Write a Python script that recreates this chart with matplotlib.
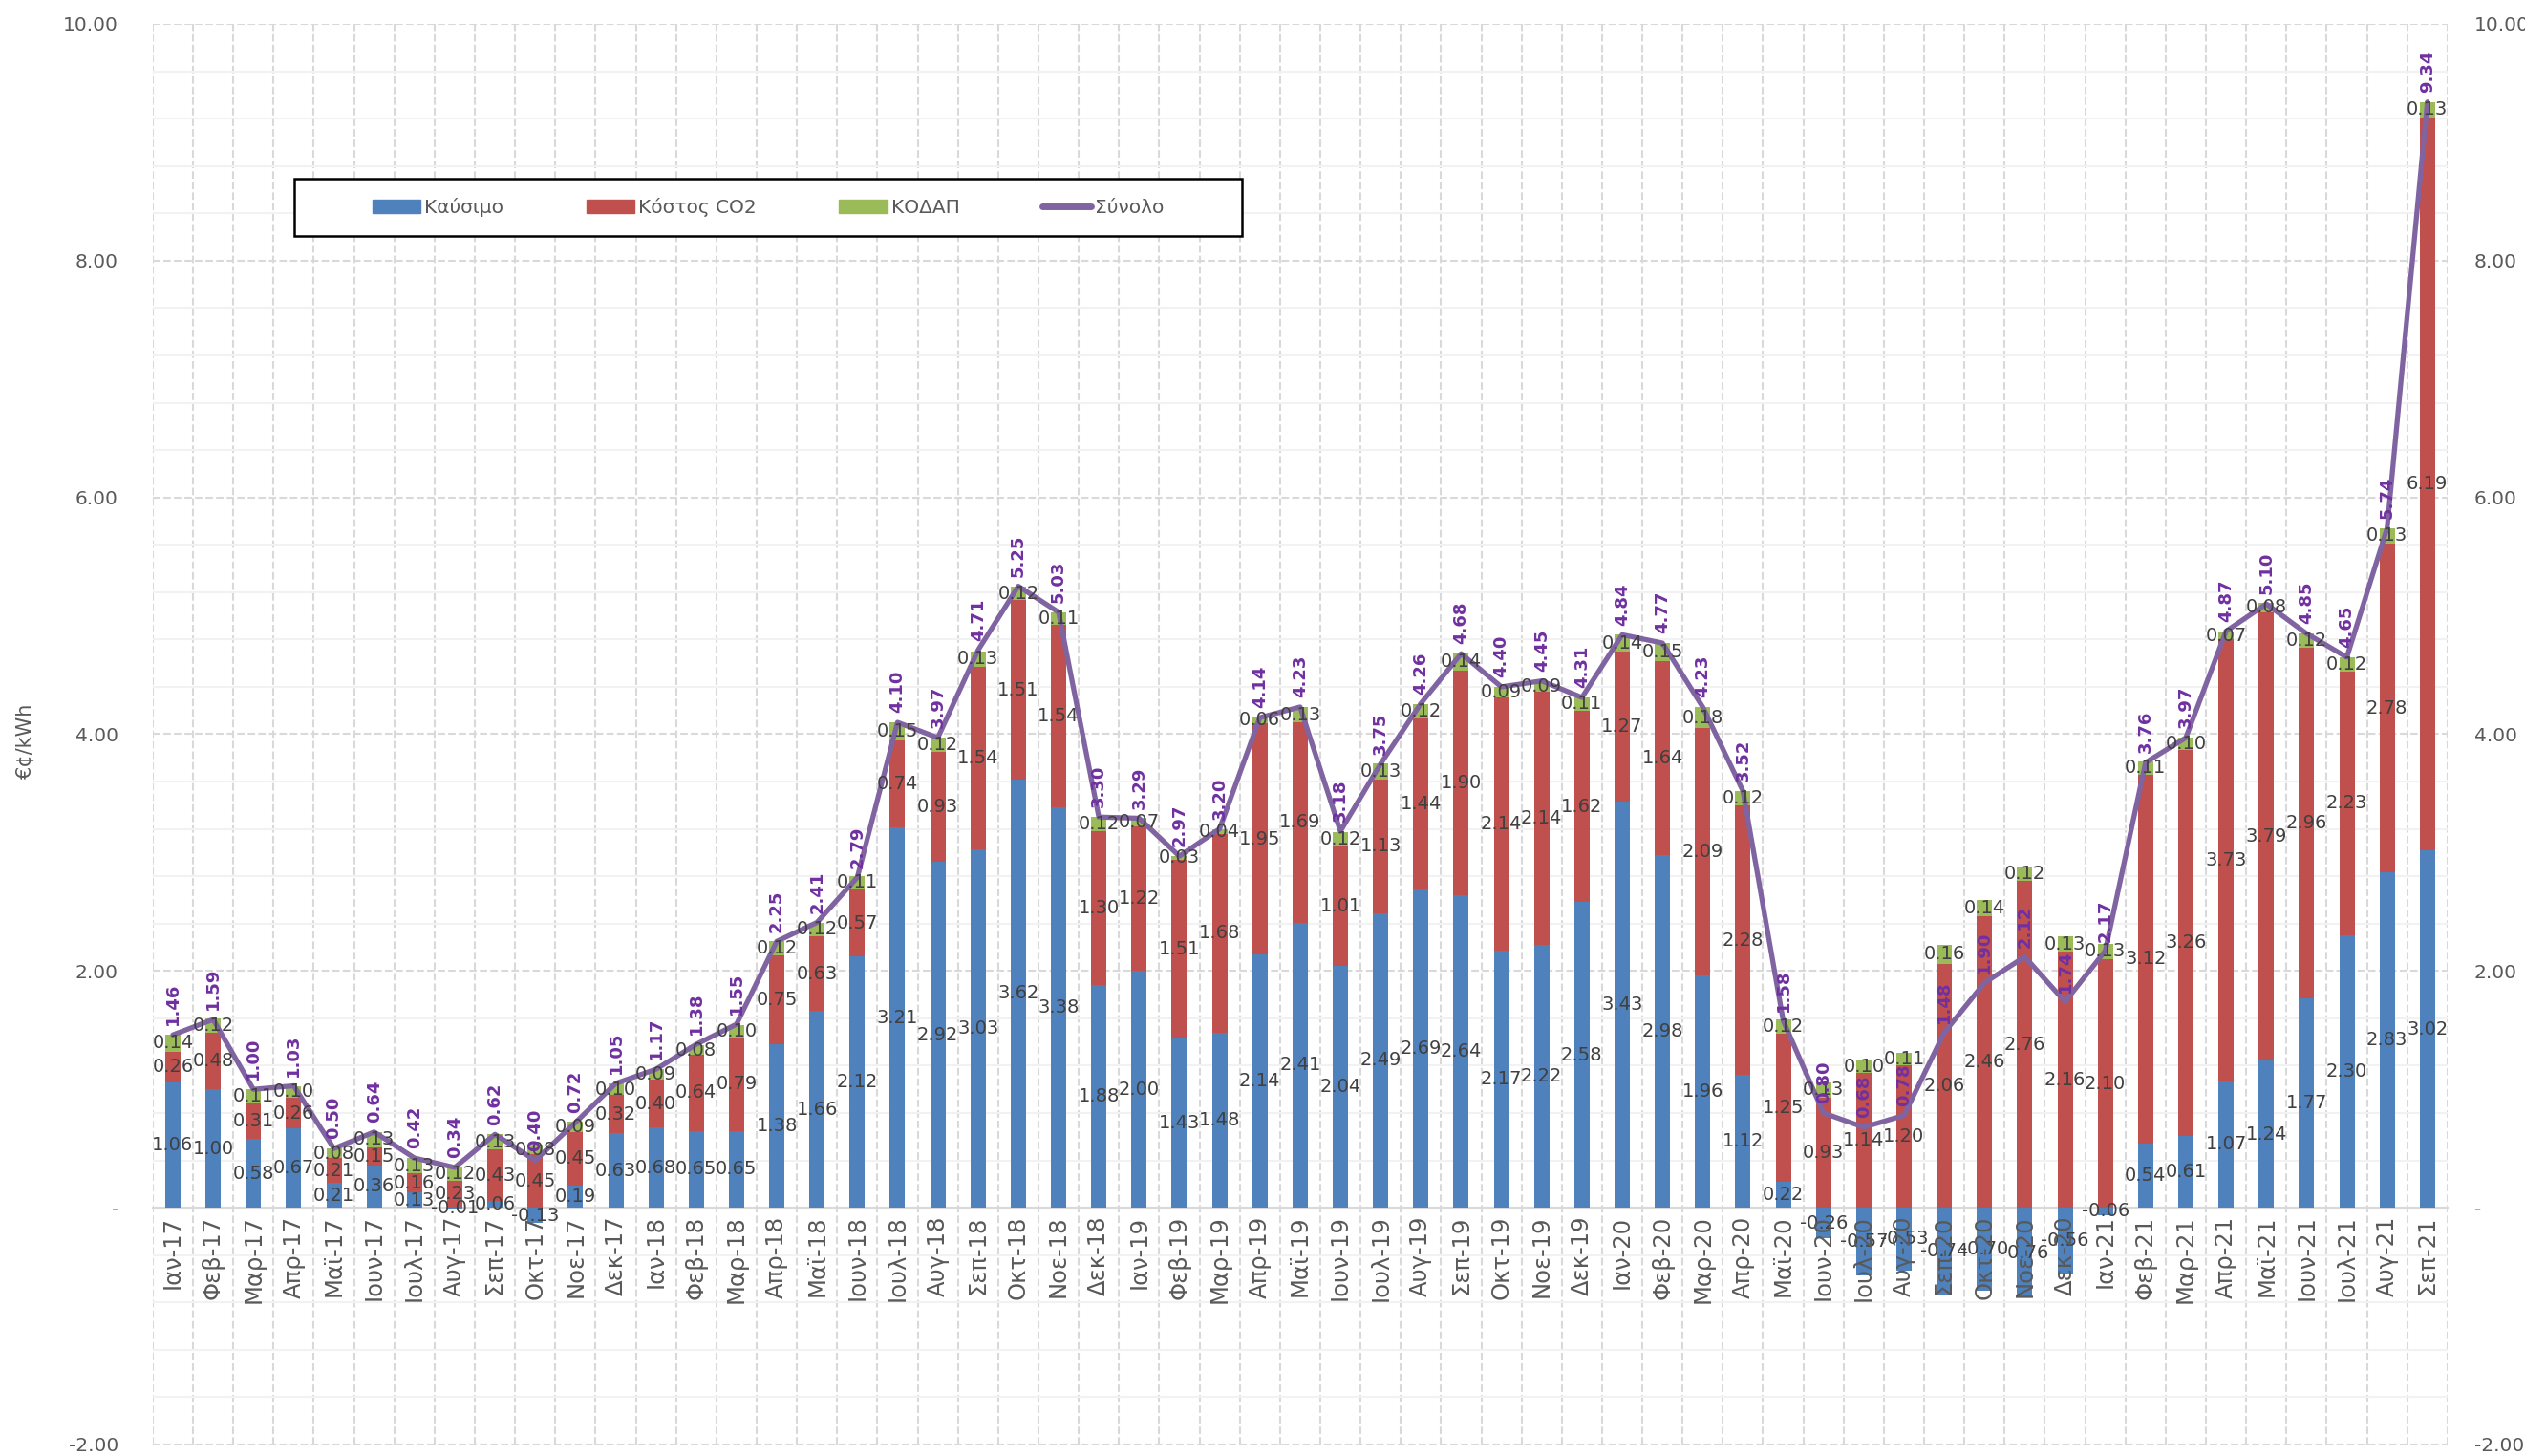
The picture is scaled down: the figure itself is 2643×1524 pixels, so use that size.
import numpy as np
import matplotlib
matplotlib.use('Agg')
import matplotlib.pyplot as plt
from matplotlib.ticker import MultipleLocator, FuncFormatter
from matplotlib.patches import Patch, Rectangle
from matplotlib.lines import Line2D

# ---- dados (€¢/kWh) ----
meses = ['Ιαν', 'Φεβ', 'Μαρ', 'Απρ', 'Μαϊ', 'Ιουν', 'Ιουλ', 'Αυγ', 'Σεπ', 'Οκτ', 'Νοε', 'Δεκ']
anos = ['17', '18', '19', '20', '21']
rotulos = [f'{m}-{a}' for a in anos for m in meses][:57]

kausimo = [1.06, 1.00, 0.58, 0.67, 0.21, 0.36, 0.13, -0.01, 0.06, -0.13, 0.19, 0.63,
           0.68, 0.65, 0.65, 1.38, 1.66, 2.12, 3.21, 2.92, 3.03, 3.62, 3.38, 1.88,
           2.00, 1.43, 1.48, 2.14, 2.41, 2.04, 2.49, 2.69, 2.64, 2.17, 2.22, 2.58,
           3.43, 2.98, 1.96, 1.12, 0.22, -0.26, -0.57, -0.53, -0.74, -0.70, -0.76, -0.56,
           -0.06, 0.54, 0.61, 1.07, 1.24, 1.77, 2.30, 2.83, 3.02]
kostos_co2 = [0.26, 0.48, 0.31, 0.26, 0.21, 0.15, 0.16, 0.23, 0.43, 0.45, 0.45, 0.32,
              0.40, 0.64, 0.79, 0.75, 0.63, 0.57, 0.74, 0.93, 1.54, 1.51, 1.54, 1.30,
              1.22, 1.51, 1.68, 1.95, 1.69, 1.01, 1.13, 1.44, 1.90, 2.14, 2.14, 1.62,
              1.27, 1.64, 2.09, 2.28, 1.25, 0.93, 1.14, 1.20, 2.06, 2.46, 2.76, 2.16,
              2.10, 3.12, 3.26, 3.73, 3.79, 2.96, 2.23, 2.78, 6.19]
kodap = [0.14, 0.12, 0.11, 0.10, 0.08, 0.13, 0.13, 0.12, 0.13, 0.08, 0.09, 0.10,
         0.09, 0.08, 0.10, 0.12, 0.12, 0.11, 0.15, 0.12, 0.13, 0.12, 0.11, 0.12,
         0.07, 0.03, 0.04, 0.06, 0.13, 0.12, 0.13, 0.12, 0.14, 0.09, 0.09, 0.11,
         0.14, 0.15, 0.18, 0.12, 0.12, 0.13, 0.10, 0.11, 0.16, 0.14, 0.12, 0.13,
         0.13, 0.11, 0.10, 0.07, 0.08, 0.12, 0.12, 0.13, 0.13]
synolo = [1.46, 1.59, 1.00, 1.03, 0.50, 0.64, 0.42, 0.34, 0.62, 0.40, 0.72, 1.05,
          1.17, 1.38, 1.55, 2.25, 2.41, 2.79, 4.10, 3.97, 4.71, 5.25, 5.03, 3.30,
          3.29, 2.97, 3.20, 4.14, 4.23, 3.18, 3.75, 4.26, 4.68, 4.40, 4.45, 4.31,
          4.84, 4.77, 4.23, 3.52, 1.58, 0.80, 0.68, 0.78, 1.48, 1.90, 2.12, 1.74,
          2.17, 3.76, 3.97, 4.87, 5.10, 4.85, 4.65, 5.74, 9.34]

AZUL = '#4F81BD'
VERMELHO = '#C0504D'
VERDE = '#9BBB59'
ROXO = '#8064A2'
ROXO_TXT = '#7030A0'
CINZA = '#595959'

# ================== FIGURA ==================
fig = plt.figure(figsize=(26.43, 15.24), dpi=100)
ax = fig.add_axes([0.0605, 0.0079, 0.9088, 0.9757])

# eixo da direita (criado antes para não mexer nos rótulos do x)
ax2 = ax.twinx()

x = np.arange(len(rotulos))
azul = np.array(kausimo)
verm = np.array(kostos_co2)
verde = np.array(kodap)
base = np.where(azul > 0, azul, 0)  # negativos empilham separado (como no Excel)

ax.bar(x, azul, width=0.38, color=AZUL, zorder=3)
ax.bar(x, verm, width=0.38, bottom=base, color=VERMELHO, zorder=3)
ax.bar(x, verde, width=0.38, bottom=base + verm, color=VERDE, zorder=3)
ax.plot(x, synolo, color=ROXO, lw=3.8, zorder=4, solid_capstyle='round')

# rótulos dos segmentos
for i in x:
    for centro, v in [(azul[i] / 2, azul[i]),
                      (base[i] + verm[i] / 2, verm[i]),
                      (base[i] + verm[i] + verde[i] / 2, verde[i])]:
        ax.text(i, centro, f'{v:.2f}', ha='center', va='center',
                fontsize=14, color='#404040', zorder=5)
    ax.annotate(f'{synolo[i]:.2f}', (i, synolo[i]), xytext=(0, 7),
                textcoords='offset points', rotation=90, ha='center', va='bottom',
                fontsize=13, fontweight='bold', color=ROXO_TXT, zorder=6)

# ================== EIXOS ==================
ax.set_xlim(-0.5, len(rotulos) - 0.5)
ax.set_ylim(-2, 10)
fmt = FuncFormatter(lambda v, _: '-' if abs(v) < 1e-9 else f'{v:.2f}')
ax.yaxis.set_major_locator(MultipleLocator(2))
ax.yaxis.set_minor_locator(MultipleLocator(0.4))
ax.yaxis.set_major_formatter(fmt)
ax.tick_params(axis='y', which='both', length=0, labelsize=14.5, labelcolor=CINZA, pad=26)

ax.set_xticks(x)
ax.set_xticklabels(rotulos)
ax.tick_params(axis='x', length=0, pad=6, labelrotation=90, labelsize=17.5, labelcolor=CINZA)

for s in ['top', 'right', 'left']:
    ax.spines[s].set_visible(False)
ax.spines['bottom'].set_position(('data', 0))
ax.spines['bottom'].set_color('#D9D9D9')
ax.spines['bottom'].set_linewidth(1.5)
ax.spines['bottom'].set_zorder(2)

# grid
ax.grid(which='major', axis='y', ls='--', color='#D9D9D9', lw=1.5, zorder=0)
ax.grid(which='minor', axis='y', ls='-', color='#F2F2F2', lw=1.5, zorder=0)
for b in np.arange(-0.5, len(rotulos), 1):
    ax.axvline(b, ls='--', color='#D9D9D9', lw=1.5, zorder=0)
ax.set_axisbelow(True)
ax.xaxis.set_zorder(7)  # rótulos do eixo x por cima das barras negativas

ax2.set_ylim(ax.get_ylim())
ax2.yaxis.set_major_locator(MultipleLocator(2))
ax2.yaxis.set_major_formatter(fmt)
ax2.tick_params(axis='y', length=0, labelsize=14.5, labelcolor=CINZA, pad=20)
for s in ax2.spines.values():
    s.set_visible(False)

fig.text(0.01, 0.491, '€¢/kWh', rotation=90, ha='center', va='center',
         fontsize=15, color=CINZA)

# legenda: moldura separada + entradas centradas
caixa = Rectangle((0.0616, 0.851), 0.413, 0.040, transform=ax.transAxes,
                  facecolor='white', edgecolor='black', lw=1.8, zorder=9)
ax.add_patch(caixa)
handles = [Patch(color=AZUL), Patch(color=VERMELHO), Patch(color=VERDE),
           Line2D([], [], color=ROXO, lw=5, solid_capstyle='round')]
leg = ax.legend(handles, ['Καύσιμο', 'Κόστος CO2', 'ΚΟΔΑΠ', 'Σύνολο'],
                loc='center', bbox_to_anchor=(0.0616 + 0.413 / 2, 0.871),
                ncol=4, frameon=False, fontsize=14.5, handlelength=2.5,
                handletextpad=0.2, columnspacing=4.3, borderaxespad=0,
                labelcolor=CINZA)
leg.set_zorder(10)

fig.savefig('out.png', dpi=100, facecolor='white')
